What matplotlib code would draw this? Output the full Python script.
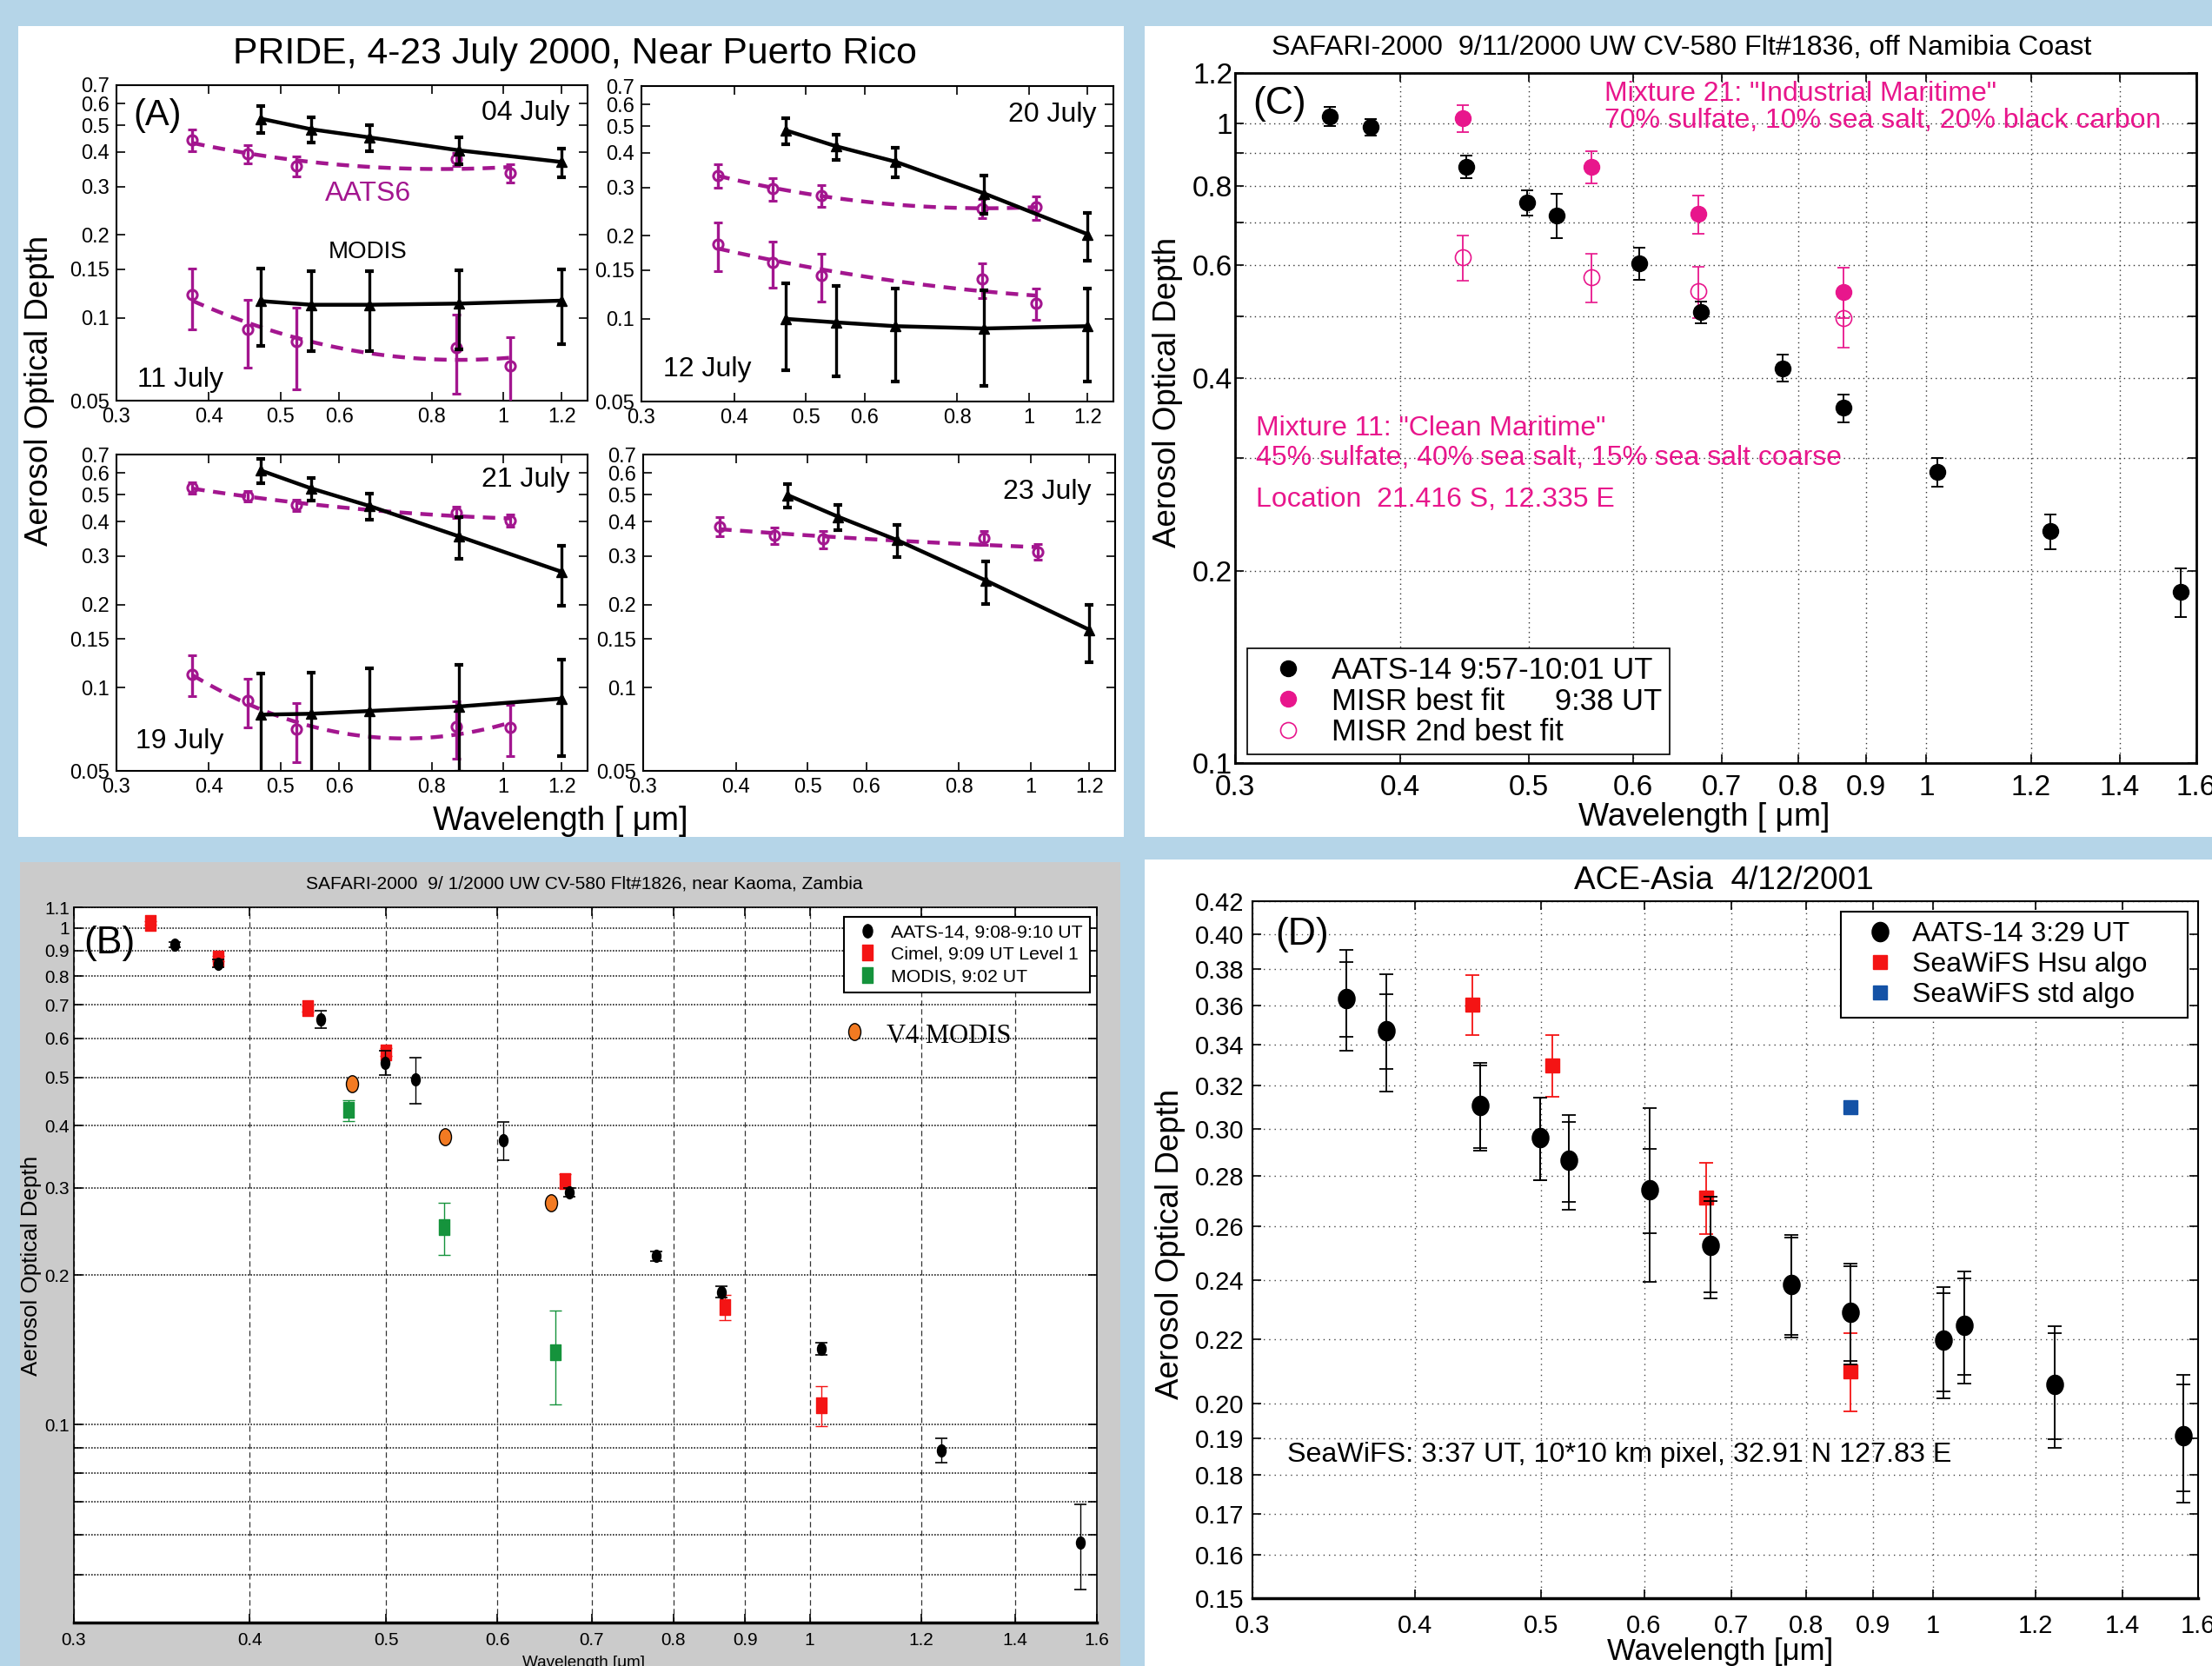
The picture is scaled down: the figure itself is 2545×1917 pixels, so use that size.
import numpy as np
import matplotlib
matplotlib.use("Agg")
import matplotlib.pyplot as plt
from matplotlib.patches import Rectangle
from matplotlib.lines import Line2D
from matplotlib.path import Path
from matplotlib.ticker import FixedLocator, FixedFormatter, NullFormatter
from matplotlib import font_manager as fm

W, H, DPI = 2545, 1917, 100

# ---------------- Panel A: PRIDE, AATS-6 vs MODIS ----------------
aats6_wl = [0.380, 0.451, 0.525, 0.864, 1.021]
modis_wl = [0.47, 0.55, 0.66, 0.87, 1.2]

jul04_aats = [0.442, 0.393, 0.357, 0.376, 0.336]
jul04_aats_err = [0.040, 0.030, 0.030, 0.020, 0.025]
jul04_modis = [0.529, 0.484, 0.452, 0.406, 0.368]
jul04_modis_err = [0.060, 0.050, 0.050, 0.045, 0.045]

jul11_aats = [0.121, 0.091, 0.082, 0.078, 0.067]
jul11_aats_err = [0.030, 0.025, 0.027, 0.025, 0.018]
jul11_modis = [0.115, 0.1115, 0.1115, 0.1126, 0.1154]
jul11_modis_err = [0.036, 0.036, 0.036, 0.036, 0.035]

jul20_aats = [0.3315, 0.297, 0.280, 0.252, 0.254]
jul20_aats_err = [0.033, 0.028, 0.025, 0.020, 0.025]
jul20_modis = [0.483, 0.4225, 0.372, 0.285, 0.2026]
jul20_modis_err = [0.052, 0.045, 0.045, 0.045, 0.040]

jul12_aats = [0.186, 0.160, 0.1435, 0.139, 0.114]
jul12_aats_err = [0.037, 0.030, 0.028, 0.020, 0.015]
jul12_modis = [0.0998, 0.0969, 0.0939, 0.0921, 0.0939]
jul12_modis_err = [0.035, 0.035, 0.035, 0.035, 0.035]

jul21_aats = [0.530, 0.4955, 0.4587, 0.4316, 0.4034]
jul21_aats_err = [0.025, 0.022, 0.022, 0.020, 0.020]
jul21_modis = [0.613, 0.5276, 0.4553, 0.354, 0.263]
jul21_modis_err = [0.060, 0.050, 0.050, 0.060, 0.065]

jul19_aats = [0.1121, 0.0897, 0.0708, 0.0725, 0.0717]
jul19_aats_err = [0.019, 0.018, 0.017, 0.017, 0.015]
jul19_modis = [0.0799, 0.0805, 0.0824, 0.0855, 0.0914]
jul19_modis_err = [0.033, 0.033, 0.035, 0.036, 0.035]

jul23_aats = [0.3844, 0.3558, 0.3457, 0.349, 0.3116]
jul23_aats_err = [0.030, 0.025, 0.025, 0.020, 0.020]
jul23_modis = [0.499, 0.4163, 0.343, 0.2447, 0.1622]
jul23_modis_err = [0.050, 0.045, 0.045, 0.043, 0.038]

pride_xticks = [0.3, 0.4, 0.5, 0.6, 0.8, 1, 1.2]
pride_xlabels = ["0.3", "0.4", "0.5", "0.6", "0.8", "1", "1.2"]
pride_yticks = [0.05, 0.1, 0.15, 0.2, 0.3, 0.4, 0.5, 0.6, 0.7]
pride_ylabels = ["0.05", "0.1", "0.15", "0.2", "0.3", "0.4", "0.5", "0.6", "0.7"]

# ---------------- Panels B, C, D: AATS-14 channels ----------------
aats14_wl = [0.354, 0.380, 0.449, 0.499, 0.525, 0.606, 0.675, 0.778, 0.865,
             1.019, 1.241, 1.558]

# Panel C: SAFARI-2000 9/11/2000, off Namibia
namibia_aod = [1.026, 0.9875, 0.856, 0.7527, 0.7186, 0.6056, 0.507, 0.4147,
               0.3595, 0.2852, 0.2303, 0.1853]
namibia_err = [0.035, 0.030, 0.035, 0.034, 0.057, 0.035, 0.020, 0.020,
               0.018, 0.015, 0.0145, 0.016]
misr_wl = [0.446, 0.558, 0.672, 0.866]
misr_best = [1.0186, 0.856, 0.7223, 0.546]
misr_best_err = [0.050, 0.050, 0.050, 0.050]
misr_second = [0.6176, 0.575, 0.547, 0.4968]
misr_second_err = [0.050, 0.050, 0.050, 0.050]

# Panel B: SAFARI-2000 9/1/2000, near Kaoma
kaoma_aod = [0.925, 0.848, 0.655, 0.536, 0.495, 0.3733, 0.2934, 0.2186,
             0.185, 0.142, 0.0889, 0.0579]
kaoma_err = [0.010, 0.015, 0.026, 0.030, 0.052, 0.033, 0.006, 0.005,
             0.005, 0.004, 0.005, 0.0112]
cimel_wl = [0.340, 0.380, 0.440, 0.500, 0.670, 0.870, 1.020]
cimel_aod = [1.023, 0.868, 0.689, 0.562, 0.3095, 0.1724, 0.1094]
cimel_err = [0.010, 0.010, 0.010, 0.010, 0.010, 0.010, 0.010]
modis_b_wl = [0.47, 0.55, 0.66]
modis_b_aod = [0.4297, 0.2497, 0.140]
modis_b_err = [0.021, 0.030, 0.030]
v4_wl = [0.473, 0.551, 0.655]
v4_aod = [0.4853, 0.380, 0.2792]

# Panel D: ACE-Asia 4/12/2001
acea_wl = [0.354, 0.380, 0.449, 0.499, 0.525, 0.606, 0.675, 0.779, 0.865,
           1.019, 1.058, 1.241, 1.558]
acea_aod = [0.3639, 0.347, 0.3106, 0.2962, 0.2863, 0.2743, 0.2526, 0.2384,
            0.2289, 0.2195, 0.2245, 0.2058, 0.1907]
acea_err = [0.027, 0.030, 0.020, 0.018, 0.020, 0.035, 0.019, 0.018, 0.017,
            0.018, 0.0185, 0.0185, 0.018]
acea_err_inner = [0.020, 0.019, 0.019, 0.018, 0.017, 0.017, 0.017, 0.017,
                  0.016, 0.016, 0.016, 0.016, 0.015]
seawifs_wl = [0.443, 0.510, 0.670, 0.865]
seawifs_hsu = [0.3607, 0.3297, 0.2711, 0.2098]
seawifs_hsu_err = [0.016, 0.015, 0.0143, 0.012]
seawifs_std_wl = [0.865]
seawifs_std = [0.3099]

wide_xticks = [0.3, 0.4, 0.5, 0.6, 0.7, 0.8, 0.9, 1, 1.2, 1.4, 1.6]
wide_xlabels = ["0.3", "0.4", "0.5", "0.6", "0.7", "0.8", "0.9", "1", "1.2", "1.4", "1.6"]
c_yticks = [0.1, 0.2, 0.4, 0.6, 0.8, 1, 1.2]
c_ylabels = ["0.1", "0.2", "0.4", "0.6", "0.8", "1", "1.2"]
c_yminor = [0.3, 0.5, 0.7, 0.9]
b_yticks = [0.1, 0.2, 0.3, 0.4, 0.5, 0.6, 0.7, 0.8, 0.9, 1, 1.1]
b_ylabels = ["0.1", "0.2", "0.3", "0.4", "0.5", "0.6", "0.7", "0.8", "0.9", "1", "1.1"]
b_yminor = [0.05, 0.06, 0.07, 0.08, 0.09]
d_yticks = [0.15, 0.16, 0.17, 0.18, 0.19, 0.20, 0.22, 0.24, 0.26, 0.28, 0.30,
            0.32, 0.34, 0.36, 0.38, 0.40, 0.42]

# ---------------- styling ----------------
MAG = "#a3168f"
PINK = "#e8168c"
RED = "#f41414"
GREEN = "#15933c"
BLUE = "#1452a6"
ORANGE = "#f27a22"
BG = "#b5d5e8"

plt.rcParams["font.family"] = ["Liberation Sans", "DejaVu Sans"]
names = {f.name for f in fm.fontManager.ttflist}
HAS_NARROW = "Liberation Sans Narrow" in names
NARROW = ["Liberation Sans Narrow", "Liberation Sans", "DejaVu Sans"] \
    if HAS_NARROW else ["Liberation Sans", "DejaVu Sans"]


def nsz(size):
    """Font size for the narrow face, shrunk when only the regular face exists."""
    return size if HAS_NARROW else size * 0.85


fig = plt.figure(figsize=(W / DPI, H / DPI), dpi=DPI)
fig.patch.set_facecolor(BG)


def frac_rect(l, r, t, b):
    return [l / W, 1 - b / H, (r - l) / W, (b - t) / H]


def panel(l, r, t, b, color):
    fig.add_artist(Rectangle((l / W, 1 - b / H), (r - l) / W, (b - t) / H,
                             transform=fig.transFigure, facecolor=color,
                             edgecolor="none", zorder=-5))


def ftext(x, y, s, **kw):
    fig.text(x / W, 1 - y / H, s, **kw)


panel(21, 1293, 30, 963, "white")
panel(1317, 2545, 30, 963, "white")
panel(23, 1289, 992, 1917, "#cbcbcb")
panel(1317, 2545, 989, 1917, "white")


def log_axes(rect, xlim, ylim, xt, xl, yt, yl, fs, xpad, ypad, spine_lw=1.5):
    ax = fig.add_axes(rect)
    ax.set_xscale("log")
    ax.set_yscale("log")
    ax.set_xlim(*xlim)
    ax.set_ylim(*ylim)
    ax.xaxis.set_major_locator(FixedLocator(xt))
    ax.xaxis.set_major_formatter(FixedFormatter(xl))
    ax.yaxis.set_major_locator(FixedLocator(yt))
    ax.yaxis.set_major_formatter(FixedFormatter(yl))
    ax.xaxis.set_minor_locator(FixedLocator([]))
    ax.yaxis.set_minor_locator(FixedLocator([]))
    ax.xaxis.set_minor_formatter(NullFormatter())
    ax.yaxis.set_minor_formatter(NullFormatter())
    ax.tick_params(which="both", direction="in", top=True, right=True,
                   length=7, width=1.2, labelsize=fs)
    ax.tick_params(axis="x", pad=xpad)
    ax.tick_params(axis="y", pad=ypad)
    for s in ax.spines.values():
        s.set_linewidth(spine_lw)
    return ax


# ---------------- Panel A ----------------
def pride_day(ax, aats, aats_err, modis, modis_err):
    lw = np.log(aats6_wl)
    coef = np.polyfit(lw, np.log(aats), 2)
    grid_wl = np.geomspace(aats6_wl[0], aats6_wl[-1], 120)
    ax.plot(grid_wl, np.exp(np.polyval(coef, np.log(grid_wl))), color=MAG,
            lw=3.2, ls=(0, (3.2, 2.2)), zorder=2)
    ax.errorbar(aats6_wl, aats, yerr=aats_err, fmt="o", ms=8, mfc="none",
                mec=MAG, mew=2.2, ecolor=MAG, elinewidth=2.4, capsize=3.5,
                capthick=3, zorder=3)
    ax.errorbar(modis_wl, modis, yerr=modis_err, fmt="^-", ms=9, color="black",
                lw=3.2, elinewidth=2.4, capsize=3.5, capthick=3, zorder=4)


pride_specs = [
    ((134, 676, 98, 461), [(jul04_aats, jul04_aats_err, jul04_modis, jul04_modis_err),
                           (jul11_aats, jul11_aats_err, jul11_modis, jul11_modis_err)]),
    ((738, 1281, 99, 462), [(jul20_aats, jul20_aats_err, jul20_modis, jul20_modis_err),
                            (jul12_aats, jul12_aats_err, jul12_modis, jul12_modis_err)]),
    ((134, 676, 523, 887), [(jul21_aats, jul21_aats_err, jul21_modis, jul21_modis_err),
                            (jul19_aats, jul19_aats_err, jul19_modis, jul19_modis_err)]),
    ((740, 1283, 523, 887), [(jul23_aats, jul23_aats_err, jul23_modis, jul23_modis_err)]),
]
for box, days in pride_specs:
    ax = log_axes(frac_rect(*box), (0.3, 1.3), (0.05, 0.7), pride_xticks,
                  pride_xlabels, pride_yticks, pride_ylabels, 17, 6, 6)
    for d in days:
        pride_day(ax, *d)

ftext(661, 62, "PRIDE, 4-23 July 2000, Near Puerto Rico", fontsize=30.8,
      ha="center", va="center")
ftext(46, 449, "Aerosol Optical Depth", fontsize=26.5, rotation=90,
      ha="center", va="center")
ftext(645, 945, "Wavelength [ \u03bcm]", fontsize=27.2, ha="center", va="center")
ftext(181, 133, "(A)", fontsize=30, ha="center", va="center")
ftext(655, 130, "04 July", fontsize=23, ha="right", va="center")
ftext(423, 223, "AATS6", fontsize=23, ha="center", va="center", color=MAG)
ftext(423, 290, "MODIS", fontsize=20, ha="center", va="center")
ftext(158, 437, "11 July", fontsize=23, ha="left", va="center")
ftext(1262, 132, "20 July", fontsize=23, ha="right", va="center")
ftext(763, 425, "12 July", fontsize=23, ha="left", va="center")
ftext(655, 552, "21 July", fontsize=23, ha="right", va="center")
ftext(156, 853, "19 July", fontsize=23, ha="left", va="center")
ftext(1256, 566, "23 July", fontsize=23, ha="right", va="center")

# ---------------- Panel C ----------------
axC = log_axes(frac_rect(1421, 2527, 84, 878), (0.3, 1.6), (0.1, 1.2),
               wide_xticks, wide_xlabels, c_yticks, c_ylabels, 24, 9, 2, 2)
axC.yaxis.set_minor_locator(FixedLocator(c_yminor))
axC.grid(True, which="both", ls=(0, (1, 3)), color="#333333", lw=1)
axC.set_axisbelow(True)
axC.errorbar(aats14_wl, namibia_aod, yerr=namibia_err, fmt="o", ms=13,
             color="black", elinewidth=1.4, capsize=5, capthick=1.4, zorder=4)
axC.errorbar(misr_wl, misr_best, yerr=misr_best_err, fmt="o", ms=13,
             color=PINK, elinewidth=1.3, capsize=5, capthick=1.3, zorder=3)
axC.errorbar(misr_wl, misr_second, yerr=misr_second_err, fmt="o", ms=13,
             mfc="none", mec=PINK, mew=1.2, ecolor=PINK, elinewidth=1.3,
             capsize=5, capthick=1.3, zorder=3)
hC = [Line2D([], [], ls="none", marker="o", ms=13, color="black"),
      Line2D([], [], ls="none", marker="o", ms=13, color=PINK),
      Line2D([], [], ls="none", marker="o", ms=13, mfc="none", mec=PINK, mew=1.2)]
legC = axC.legend(hC, ["AATS-14 9:57-10:01 UT", "MISR best fit      9:38 UT",
                       "MISR 2nd best fit"],
                  loc="lower left", bbox_to_anchor=(0.0127, 0.0126),
                  borderaxespad=0, fancybox=False, edgecolor="black",
                  fontsize=25, handlelength=2.2, handletextpad=0.35,
                  labelspacing=0.08, borderpad=0.25, framealpha=1)
legC.get_frame().set_linewidth(1.2)

ftext(1935, 55, "SAFARI-2000  9/11/2000 UW CV-580 Flt#1836, off Namibia Coast",
      fontsize=23.2, ha="center", va="center")
ftext(1344, 451, "Aerosol Optical Depth", fontsize=26.5, rotation=90,
      ha="center", va="center")
ftext(1961, 940, "Wavelength [ \u03bcm]", fontsize=26.8, ha="center", va="center")
ftext(1472, 120, "(C)", fontsize=32, ha="center", va="center")
ftext(1846, 108, "Mixture 21: \"Industrial Maritime\"", fontsize=23,
      color=PINK, ha="left", va="center")
ftext(1846, 139, "70% sulfate, 10% sea salt, 20% black carbon", fontsize=23,
      color=PINK, ha="left", va="center")
ftext(1445, 493, "Mixture 11: \"Clean Maritime\"", fontsize=23,
      color=PINK, ha="left", va="center")
ftext(1445, 527, "45% sulfate, 40% sea salt, 15% sea salt coarse", fontsize=23,
      color=PINK, ha="left", va="center")
ftext(1445, 575, "Location  21.416 S, 12.335 E", fontsize=23,
      color=PINK, ha="left", va="center")

# ---------------- Panel B ----------------
rect_marker = Path([(-0.32, -0.5), (0.32, -0.5), (0.32, 0.5), (-0.32, 0.5),
                    (-0.32, -0.5)], closed=True)
circ = Path.unit_circle()
ell_marker = Path(circ.vertices * np.array([0.72, 1.0]), circ.codes)
ell_round = Path(circ.vertices * np.array([0.86, 1.0]), circ.codes)

axB = log_axes(frac_rect(85, 1262, 1044, 1867), (0.3, 1.6), (0.04, 1.1),
               wide_xticks, wide_xlabels, b_yticks, b_ylabels, nsz(17.6),
               8, 3.5, 1.2)
for lab in axB.get_xticklabels() + axB.get_yticklabels():
    lab.set_family(NARROW)
axB.yaxis.set_minor_locator(FixedLocator(b_yminor))
axB.spines["bottom"].set_linewidth(2.5)
axB.grid(True, axis="y", which="both", ls=(0, (1, 1)), color="#222222", lw=1.2)
axB.grid(True, axis="x", which="major", ls=(0, (5, 3)), color="#333333", lw=0.9)
axB.set_axisbelow(True)
axB.errorbar(cimel_wl, cimel_aod, yerr=cimel_err, fmt="none", ecolor=RED,
             elinewidth=1, capsize=5, capthick=1, zorder=3)
axB.plot(cimel_wl, cimel_aod, ls="none", marker=rect_marker, ms=13, color=RED,
         zorder=3)
axB.errorbar(modis_b_wl, modis_b_aod, yerr=modis_b_err, fmt="none",
             ecolor=GREEN, elinewidth=1, capsize=5, capthick=1, zorder=3)
axB.plot(modis_b_wl, modis_b_aod, ls="none", marker=rect_marker, ms=13,
         color=GREEN, zorder=3)
axB.plot(v4_wl, v4_aod, ls="none", marker=ell_marker, ms=14, mfc=ORANGE,
         mec="black", mew=1, zorder=4)
axB.errorbar(aats14_wl, kaoma_aod, yerr=kaoma_err, fmt="none", ecolor="black",
             elinewidth=1, capsize=5, capthick=1.2, zorder=5)
axB.plot(aats14_wl, kaoma_aod, ls="none", marker=ell_marker, ms=10,
         color="black", zorder=5)
hB = [Line2D([], [], ls="none", marker=ell_marker, ms=11, color="black"),
      Line2D([], [], ls="none", marker=rect_marker, ms=13, color=RED),
      Line2D([], [], ls="none", marker=rect_marker, ms=13, color=GREEN)]
legB = axB.legend(hB, ["AATS-14, 9:08-9:10 UT", "Cimel, 9:09 UT Level 1",
                       "MODIS, 9:02 UT"],
                  loc="upper right", bbox_to_anchor=(0.9932, 0.9866),
                  borderaxespad=0, fancybox=False, edgecolor="black",
                  prop={"family": NARROW, "size": nsz(18)},
                  handlelength=1.7, handletextpad=0.42, labelspacing=0.3,
                  borderpad=0.4, framealpha=1)
legB.get_frame().set_linewidth(1.5)
axB.plot([0.763], [0.826], transform=axB.transAxes, ls="none",
         marker=ell_marker, ms=14, mfc=ORANGE, mec="black", mew=1,
         clip_on=False)
axB.text(0.794, 0.819, "V4 MODIS", transform=axB.transAxes, fontsize=22,
         family=["Liberation Serif", "DejaVu Serif"], ha="left", va="center")

ftext(672, 1017, "SAFARI-2000  9/ 1/2000 UW CV-580 Flt#1826, near Kaoma, Zambia",
      fontsize=nsz(17.8), family=NARROW, ha="center", va="center")
ftext(36, 1456, "Aerosol Optical Depth", fontsize=18.7, rotation=90,
      ha="center", va="center")
ftext(672, 1905, "Wavelength [\u03bcm]", fontsize=nsz(16),
      family=NARROW, ha="center", va="top")
ftext(126, 1085, "(B)", fontsize=32, ha="center", va="center")

# ---------------- Panel D ----------------
axD = log_axes(frac_rect(1441, 2529, 1037, 1839), (0.3, 1.6), (0.15, 0.42),
               wide_xticks, wide_xlabels, d_yticks,
               ["%.2f" % v for v in d_yticks], 21, 13, 7, 1.5)
axD.spines["bottom"].set_linewidth(2.5)
axD.grid(True, which="major", ls=(0, (1, 3.5)), color="#444444", lw=1)
axD.set_axisbelow(True)
axD.errorbar(acea_wl, acea_aod, yerr=acea_err, fmt="none", ecolor="black",
             elinewidth=1.3, capsize=5.5, capthick=1.3, zorder=4)
axD.errorbar(acea_wl, acea_aod, yerr=acea_err_inner, fmt="none",
             ecolor="black", elinewidth=1.3, capsize=5.5, capthick=1.3, zorder=4)
axD.plot(acea_wl, acea_aod, ls="none", marker=ell_round, ms=16,
         color="black", zorder=5)
axD.errorbar(seawifs_wl, seawifs_hsu, yerr=seawifs_hsu_err, fmt="none",
             ecolor=RED, elinewidth=1.3, capsize=5.5, capthick=1.3, zorder=3)
axD.plot(seawifs_wl, seawifs_hsu, ls="none", marker="s", ms=12, color=RED,
         zorder=3)
axD.plot(seawifs_std_wl, seawifs_std, ls="none", marker="s", ms=12,
         color=BLUE, zorder=3)
hD = [Line2D([], [], ls="none", marker=ell_round, ms=16, color="black"),
      Line2D([], [], ls="none", marker="s", ms=12, color=RED),
      Line2D([], [], ls="none", marker="s", ms=12, color=BLUE)]
legD = axD.legend(hD, ["AATS-14 3:29 UT    ", "SeaWiFS Hsu algo    ",
                       "SeaWiFS std algo    "],
                  loc="upper right", bbox_to_anchor=(0.989, 0.985),
                  borderaxespad=0, fancybox=False, edgecolor="black",
                  fontsize=23, handlelength=2.1, handletextpad=0.1,
                  labelspacing=0.15, borderpad=0.35, framealpha=1)
legD.get_frame().set_linewidth(1.5)

ftext(1983, 1013, "ACE-Asia  4/12/2001", fontsize=26.6, ha="center", va="center")
ftext(1346, 1431, "Aerosol Optical Depth", fontsize=26.5, rotation=90,
      ha="center", va="center")
ftext(1979, 1900, "Wavelength [\u03bcm]", fontsize=25, ha="center", va="center")
ftext(1498, 1075, "(D)", fontsize=32, ha="center", va="center")
ftext(1481, 1674, "SeaWiFS: 3:37 UT, 10*10 km pixel, 32.91 N 127.83 E",
      fontsize=23.2, ha="left", va="center")

fig.savefig("out.png", dpi=DPI, facecolor=fig.get_facecolor())
